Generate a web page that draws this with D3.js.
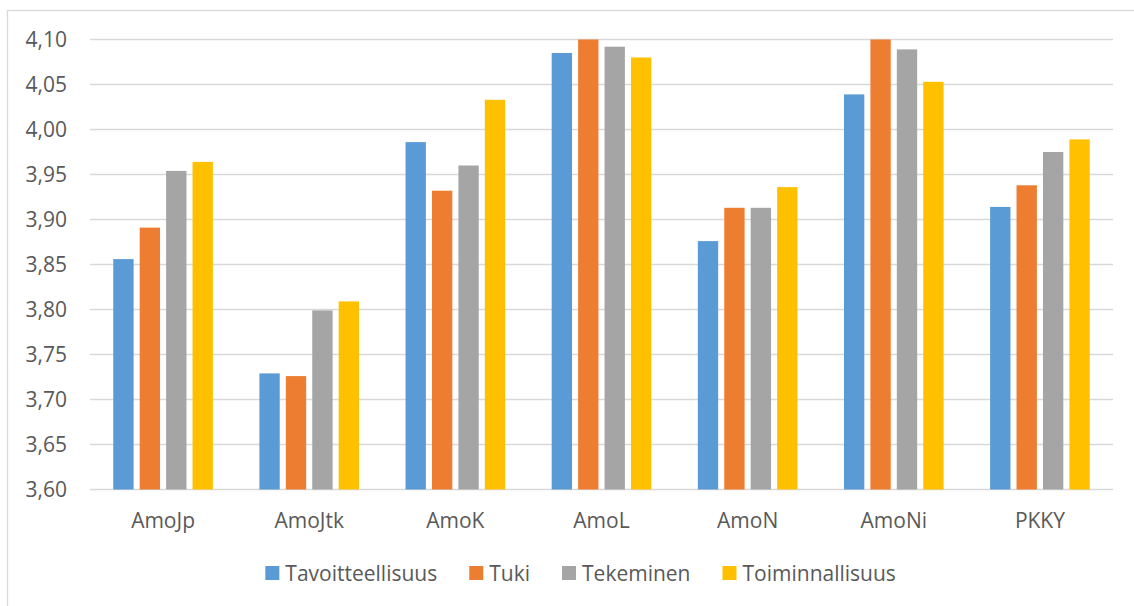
<!DOCTYPE html>
<html>
<head>
<meta charset="utf-8">
<script src="https://cdn.jsdelivr.net/npm/d3@7"></script>
<style>
  body { margin: 0; background: #fff; }
  text { font-family: "Open Sans", sans-serif; fill: #595959; }
</style>
</head>
<body>
<div id="chart"></div>
<script>
var categories = ["AmoJp", "AmoJtk", "AmoK", "AmoL", "AmoN", "AmoNi", "PKKY"];
var seriesNames = ["Tavoitteellisuus", "Tuki", "Tekeminen", "Toiminnallisuus"];
var tavoitteellisuus = [3.856, 3.729, 3.986, 4.085, 3.876, 4.039, 3.914];
var tuki = [3.891, 3.726, 3.932, 4.10, 3.913, 4.10, 3.938];
var tekeminen = [3.954, 3.799, 3.960, 4.092, 3.913, 4.089, 3.975];
var toiminnallisuus = [3.964, 3.809, 4.033, 4.080, 3.936, 4.053, 3.989];
var colors = ["#5b9bd5", "#ed7d31", "#a5a5a5", "#ffc000"];
var yTicks = [3.60, 3.65, 3.70, 3.75, 3.80, 3.85, 3.90, 3.95, 4.00, 4.05, 4.10];

var width = 1134, height = 606;
var plotLeft = 90, plotRight = 1113, plotTop = 39.5, plotBottom = 489.5;

var values = [tavoitteellisuus, tuki, tekeminen, toiminnallisuus];

var svg = d3.select("#chart").append("svg")
  .attr("width", width)
  .attr("height", height);

// chart frame
svg.append("rect")
  .attr("x", 7.5).attr("y", 10.5)
  .attr("width", 1150).attr("height", 620)
  .attr("fill", "none")
  .attr("stroke", "#d9d9d9")
  .attr("stroke-width", 1.3);

var x0 = d3.scaleBand().domain(categories).range([plotLeft, plotRight]).padding(0);
var x1 = d3.scaleBand().domain(seriesNames).range([0, x0.bandwidth()])
  .paddingInner(0.23).paddingOuter(0.88);
var y = d3.scaleLinear().domain([3.6, 4.1]).range([plotBottom, plotTop]);

// gridlines
svg.append("g")
  .selectAll("line")
  .data(yTicks)
  .enter().append("line")
  .attr("x1", plotLeft).attr("x2", plotRight)
  .attr("y1", function(d) { return y(d); })
  .attr("y2", function(d) { return y(d); })
  .attr("stroke", "#d9d9d9")
  .attr("stroke-width", 1.4);

// y labels
svg.append("g")
  .selectAll("text")
  .data(yTicks)
  .enter().append("text")
  .attr("x", 67)
  .attr("y", function(d) { return y(d) + 7.5; })
  .attr("text-anchor", "end")
  .style("font-size", "21px")
  .text(function(d) { return d3.format(".2f")(d).replace(".", ","); });

// bars
values.forEach(function(vals, s) {
  svg.append("g")
    .selectAll("rect")
    .data(vals)
    .enter().append("rect")
    .attr("x", function(d, i) { return x0(categories[i]) + x1(seriesNames[s]); })
    .attr("width", x1.bandwidth())
    .attr("y", function(d) { return y(Math.min(d, 4.1)); })
    .attr("height", function(d) { return plotBottom - y(Math.min(d, 4.1)); })
    .attr("fill", colors[s]);
});

// x labels
svg.append("g")
  .selectAll("text")
  .data(categories)
  .enter().append("text")
  .attr("x", function(d) { return x0(d) + x0.bandwidth() / 2; })
  .attr("y", 528)
  .attr("text-anchor", "middle")
  .style("font-size", "21px")
  .text(function(d) { return d; });

// legend
var legend = svg.append("g");
var items = legend.selectAll("g")
  .data(seriesNames)
  .enter().append("g");
items.append("rect")
  .attr("width", 14).attr("height", 14)
  .attr("y", 566)
  .attr("fill", function(d, i) { return colors[i]; });
items.append("text")
  .attr("x", 20)
  .attr("y", 580.5)
  .style("font-size", "21px")
  .text(function(d) { return d; });

var pos = 0, offsets = [];
items.each(function() {
  offsets.push(pos);
  var w = d3.select(this).select("text").node().getComputedTextLength();
  pos += 20 + w + 32;
});
var total = pos - 32;
var start = 580.6 - total / 2;
items.attr("transform", function(d, i) { return "translate(" + (start + offsets[i]) + ",0)"; });
</script>
</body>
</html>
